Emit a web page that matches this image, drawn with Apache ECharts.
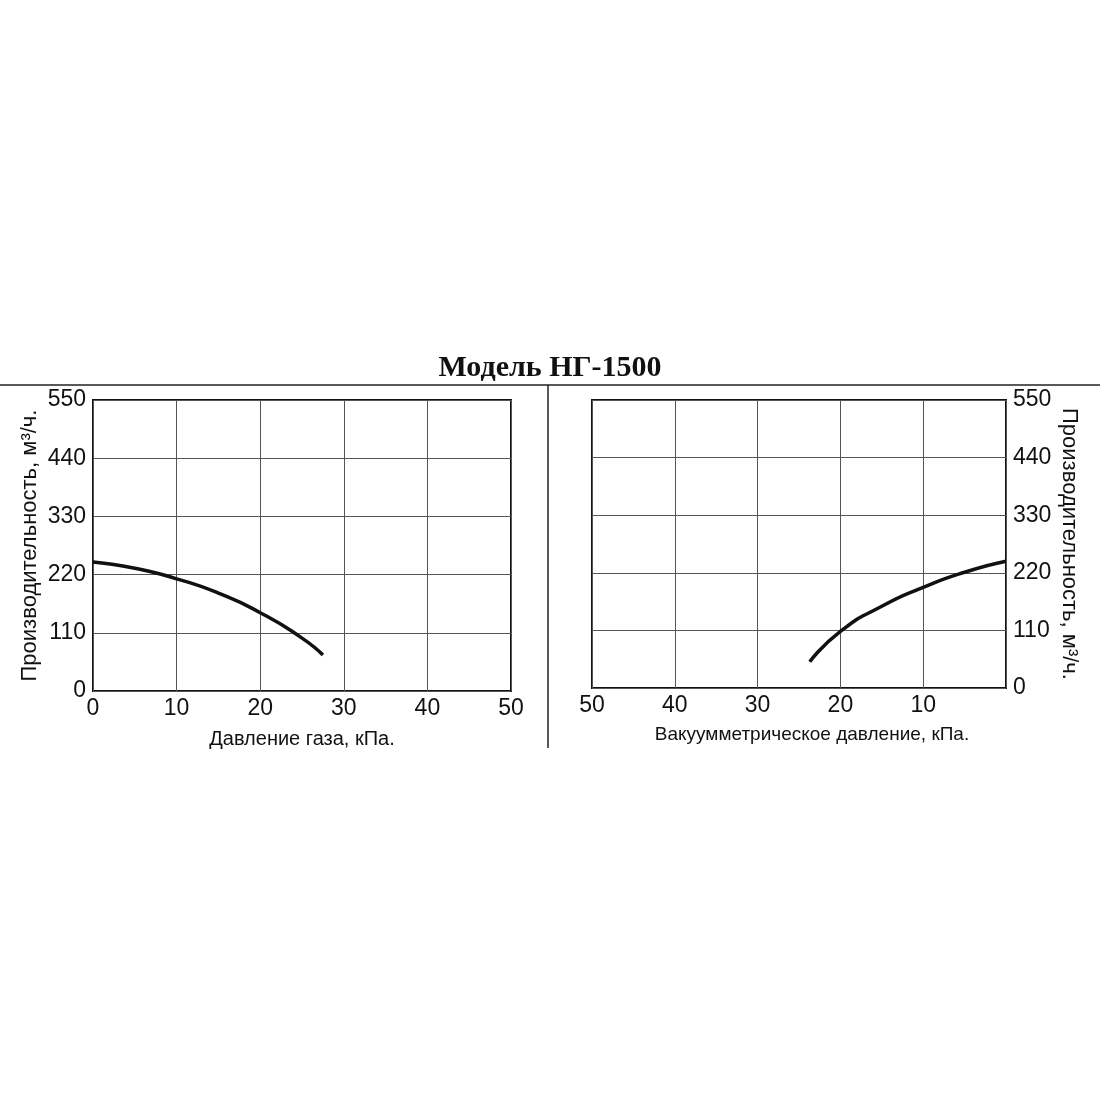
<!DOCTYPE html>
<html>
<head>
<meta charset="utf-8">
<script src="https://cdn.jsdelivr.net/npm/echarts@6/dist/echarts.min.js"></script>
<style>
  html, body { margin: 0; padding: 0; background: #fff; }
  #main { width: 1100px; height: 1100px; }
</style>
</head>
<body>
<div id="main"></div>
<script>
// давление газа (кПа) и производительность (м3/ч)
var gasPressure = [0, 5, 10, 15, 20, 25, 27.5];
var gasFlow = [244, 232, 212, 185, 148, 100, 68];
// вакуумметрическое давление (кПа)
var vacPressure = [0, 5, 10, 15, 20, 23.7];
var vacFlow = [242, 221, 192, 156, 108, 50];

var xTicks = { min: 0, max: 50, interval: 10 };
var yTicks = { min: 0, max: 550, interval: 110 };

var narrow = '"Liberation Sans Narrow", "Arial Narrow", "Liberation Sans", Arial, sans-serif';

function pairs(xs, ys) {
    var out = [];
    for (var i = 0; i < xs.length; i++) out.push([xs[i], ys[i]]);
    return out;
}

var splitLine = { show: true, lineStyle: { color: '#555', width: 1 } };
var labelStyle = { color: '#111', fontSize: 23, fontFamily: narrow };
var nameStyle = { color: '#111', fontSize: 19, fontFamily: narrow };
var yNameStyle = { color: '#111', fontSize: 22, fontFamily: narrow };

var myChart = echarts.init(document.getElementById('main'));
var option = {
    backgroundColor: '#fff',
    animation: false,
    title: {
        text: 'Модель НГ-1500',
        left: 'center',
        top: 348,
        textStyle: { fontFamily: '"Liberation Serif", "Times New Roman", serif', fontSize: 30, fontWeight: 'bold', color: '#111' }
    },
    graphic: [
        { type: 'line', shape: { x1: 0, y1: 385, x2: 1100, y2: 385 }, style: { stroke: '#222', lineWidth: 1.5 } },
        { type: 'line', shape: { x1: 548, y1: 385, x2: 548, y2: 748 }, style: { stroke: '#222', lineWidth: 1.5 } }
    ],
    grid: [
        { left: 93, top: 400, right: 589, bottom: 409, show: true, borderColor: '#111', borderWidth: 2 },
        { left: 592, top: 400, right: 94, bottom: 412, show: true, borderColor: '#111', borderWidth: 2 }
    ],
    xAxis: [
        {
            type: 'value', gridIndex: 0, min: xTicks.min, max: xTicks.max, interval: xTicks.interval,
            axisLine: { show: false }, axisTick: { show: false },
            axisLabel: Object.assign({ margin: 6 }, labelStyle),
            splitLine: splitLine,
            name: 'Давление газа, кПа.', nameLocation: 'middle', nameGap: 38,
            nameTextStyle: Object.assign({}, nameStyle, { fontSize: 20 })
        },
        {
            type: 'value', gridIndex: 1, min: xTicks.min, max: xTicks.max, interval: xTicks.interval, inverse: true,
            axisLine: { show: false }, axisTick: { show: false },
            axisLabel: Object.assign({
                margin: 6,
                formatter: function (v) { return v === 0 ? '' : v; }
            }, labelStyle),
            splitLine: splitLine,
            name: 'Вакуумметрическое давление, кПа.', nameLocation: 'middle', nameGap: 37,
            nameTextStyle: Object.assign({ padding: [0, 0, 0, 26] }, nameStyle)
        }
    ],
    yAxis: [
        {
            type: 'value', gridIndex: 0, min: yTicks.min, max: yTicks.max, interval: yTicks.interval,
            axisLine: { show: false }, axisTick: { show: false },
            axisLabel: Object.assign({ margin: 7 }, labelStyle),
            splitLine: splitLine,
            name: 'Производительность, м³/ч.', nameLocation: 'middle', nameGap: 52,
            nameTextStyle: yNameStyle
        },
        {
            type: 'value', gridIndex: 1, position: 'right', min: yTicks.min, max: yTicks.max, interval: yTicks.interval,
            axisLine: { show: false }, axisTick: { show: false },
            axisLabel: Object.assign({ margin: 7 }, labelStyle),
            splitLine: splitLine,
            name: 'Производительность, м³/ч.', nameLocation: 'middle', nameGap: 52, nameRotate: -90,
            nameTextStyle: yNameStyle
        }
    ],
    series: [
        {
            type: 'line', xAxisIndex: 0, yAxisIndex: 0, smooth: 0.6, symbol: 'none',
            lineStyle: { color: '#111', width: 3.5 },
            data: pairs(gasPressure, gasFlow)
        },
        {
            type: 'line', xAxisIndex: 1, yAxisIndex: 1, smooth: 0.6, symbol: 'none',
            lineStyle: { color: '#111', width: 3.5 },
            data: pairs(vacPressure, vacFlow)
        }
    ]
};
myChart.setOption(option);
</script>
</body>
</html>
